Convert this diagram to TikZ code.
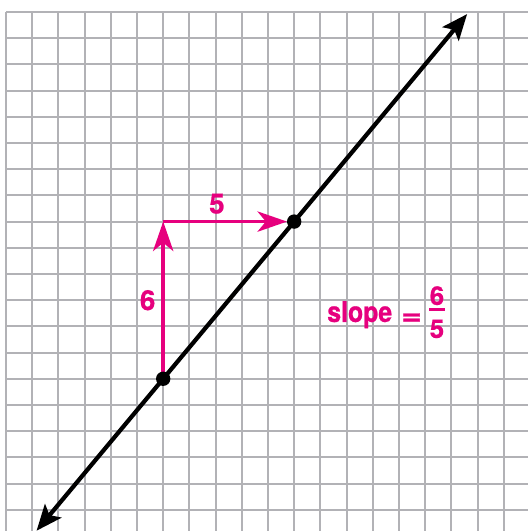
\documentclass[tikz,border=0pt]{standalone}
\usepackage{fontspec}
\setsansfont{TeX Gyre Heros}
\usepackage{xcolor}
\usetikzlibrary{arrows.meta}
\definecolor{mypink}{RGB}{230,0,126}
\definecolor{mygray}{RGB}{178,178,182}

\begin{document}
\begin{tikzpicture}[x=0.5cm, y=0.5cm,
  gridline/.style={mygray, line width=1.1pt},
  mainline/.style={line width=2.3pt, {Stealth[length=14pt,width=11.5pt,inset=3pt]}-{Stealth[length=14pt,width=11.5pt,inset=3pt]}},
  runrise/.style={mypink, line width=1.9pt, -{Stealth[length=16pt,width=11pt,inset=4.5pt]}},
  dot/.style={circle, fill=black, inner sep=0pt, minimum size=7.8pt},
  lbl/.style={mypink, font=\sffamily\bfseries\fontsize{14}{16}\selectfont\addfontfeature{FakeBold=0.8}},
  biglbl/.style={mypink, font=\sffamily\bfseries\fontsize{15}{17}\selectfont\addfontfeature{FakeBold=0.8}},
  fracrule/.style={mypink, line width=1.7pt}]

\useasboundingbox (-0.229,-0.81) rectangle (19.92,19.458);

% grid
\foreach \i in {0,...,19}
  \draw[gridline] (\i,-0.81) -- (\i,19);
\foreach \j in {0,...,19}
  \draw[gridline] (0,\j) -- (19.92,\j);

\coordinate (lo) at (1.167,-0.8);
\coordinate (hi) at (17.6,18.92);
\coordinate (p1) at (6,5);
\coordinate (p2) at (11,11);
\coordinate (corner) at (6,11);

\draw[mainline] (lo) -- (hi);

\draw[runrise] (p1) -- (corner) node[biglbl, midway, left] (rise) {6};
\draw[runrise, shorten >=3.9pt] (corner) -- (p2) node[biglbl, pos=0.41, above] (run) {5};

% points on the line
\node[dot] (A) at (p1) {};
\node[dot] (B) at (p2) {};

% slope = 6/5
\node[lbl, inner sep=0pt, anchor=base west] (slope) at (12.25,7.17)
  {\fontsize{15.5}{17}\selectfont\addfontfeature{FakeStretch=0.87}slope\hspace{5pt}\raisebox{-1.5pt}{\scalebox{1.4}[1]{=}}};
\node[lbl, inner sep=0pt, anchor=base] (num) at (16.45,7.82) {6};
\node[lbl, inner sep=0pt, anchor=base] (den) at (16.45,6.56) {5};
\coordinate (barL) at (16.15,7.63);
\coordinate (barR) at (16.76,7.63);
\draw[fracrule] (barL) -- (barR);
\end{tikzpicture}
\end{document}
